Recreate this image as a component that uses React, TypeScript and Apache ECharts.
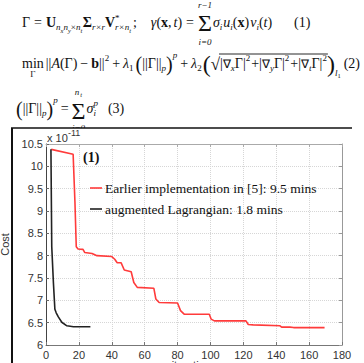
import React, { useEffect, useRef } from "react";
import * as echarts from "echarts";

// ---- data ----
const xTickMin = 0;
const xTickMax = 180;
const xTickStep = 20;
const yTickMin = 6;
const yTickMax = 10.5;
const yTickStep = 0.5;

const redIter = [3.2, 16.5, 17.6, 18.4, 19.5, 22.5, 23.6, 28, 31, 40, 41.8, 43.3, 45.7, 47.6, 51.8, 53.4, 55.5, 65.6, 66.8, 68.8, 80, 81.8, 84, 99.3, 100.4, 102.4, 120.8, 121.6, 123, 126, 142.3, 143.3, 148.3, 150.5, 169.4];
const redCost = [10.38, 10.27, 9.2, 8.2, 8.15, 8.14, 8.07, 8.05, 8.0, 7.98, 7.92, 7.84, 7.84, 7.68, 7.64, 7.4, 7.29, 7.27, 7.03, 6.95, 6.94, 6.77, 6.69, 6.69, 6.58, 6.54, 6.54, 6.54, 6.46, 6.45, 6.43, 6.4, 6.4, 6.39, 6.39];

const blackIter = [3, 3.5, 4.5, 5.4, 6.2, 7.5, 9.6, 12.7, 16.7, 27];
const blackCost = [10.38, 8.2, 7.4, 6.8, 6.72, 6.63, 6.51, 6.43, 6.41, 6.41];

const seriesNames = ["Earlier implementation in [5]: 9.5 mins", "augmented Lagrangian: 1.8 mins"];
const seriesColors = ["#ff3b3b", "#222222"];
const xName = "iterations";
const yName = "Cost";
const panelLabel = "(1)";

const SERIF = '"Liberation Serif", "Times New Roman", serif';
const SANS = '"Liberation Sans", Arial, sans-serif';

type Piece = {
  t?: string;
  s?: number;
  it?: boolean;
  b?: boolean;
  dy?: number;
  pre?: number;
  ov?: boolean;
  ctr?: boolean;
  cdx?: number;
  sq?: "start" | "end";
  sqDy?: number;
};

function fontStr(size: number, it?: boolean, b?: boolean) {
  return `${it ? "italic " : ""}${b ? "bold " : ""}${size}px ${SERIF}`;
}

let mctx: CanvasRenderingContext2D | null = null;
function measure(t: string, size: number, it?: boolean, b?: boolean) {
  if (!mctx) mctx = document.createElement("canvas").getContext("2d");
  if (!mctx) return t.length * size * 0.5;
  mctx.font = fontStr(size, it, b);
  return mctx.measureText(t).width;
}

function txt(t: string, x: number, base: number, size: number, it?: boolean, b?: boolean, align = "left") {
  return {
    type: "text",
    silent: true,
    z: -10,
    style: {
      text: t,
      x,
      y: base - 0.34 * size,
      font: fontStr(size, it, b),
      fill: "#111",
      align,
      textAlign: align,
      verticalAlign: "middle",
      textVerticalAlign: "middle",
    },
  };
}

function layoutLine(x0: number, base: number, M: number, items: Piece[]) {
  const out: any[] = [];
  let x = x0;
  let lastStart = x0;
  let mainStart = x0;
  let mainW = 0;
  let sqX = 0;
  for (const p of items) {
    if (p.sq === "start") {
      sqX = x;
      continue;
    }
    if (p.sq === "end") {
      out.push({
        type: "line",
        silent: true,
        z: -10,
        shape: { x1: sqX - 1, y1: base + (p.sqDy || -13), x2: x + 1, y2: base + (p.sqDy || -13) },
        style: { stroke: "#111", lineWidth: 0.9 },
      });
      continue;
    }
    const s = p.s || M;
    const t = p.t || "";
    const w = measure(t, s, p.it, p.b);
    const y = base + (p.dy || 0);
    if (p.ctr) {
      const cx = mainStart + mainW / 2 + (p.cdx || 0);
      out.push(txt(t, cx, y, s, p.it, p.b, "center"));
      continue;
    }
    if (p.ov) {
      out.push(txt(t, lastStart, y, s, p.it, p.b));
      x = Math.max(x, lastStart + w);
      continue;
    }
    const start = x + (p.pre || 0);
    out.push(txt(t, start, y, s, p.it, p.b));
    lastStart = start;
    mainStart = start;
    mainW = w;
    x = start + w;
  }
  return out;
}

const SUB = 9;
const SS = 6.5;

const line1: Piece[] = [
  { t: "Γ" },
  { t: "=", pre: 4 },
  { t: "U", b: true, pre: 4 },
  { t: "n", s: SUB, it: true, dy: 3.5 },
  { t: "x", s: SS, it: true, dy: 5.5 },
  { t: "n", s: SUB, it: true, dy: 3.5 },
  { t: "y", s: SS, it: true, dy: 5.5 },
  { t: "×", s: SUB, dy: 3.5 },
  { t: "n", s: SUB, it: true, dy: 3.5 },
  { t: "t", s: SS, it: true, dy: 5.5 },
  { t: "Σ", b: true, pre: 0.5 },
  { t: "r×r", s: SUB, it: true, dy: 3.5 },
  { t: "V", b: true },
  { t: "*", s: SUB, dy: -6 },
  { t: "r×n", s: SUB, it: true, dy: 3.5, ov: true },
  { t: "t", s: SS, it: true, dy: 5.5 },
  { t: ";", pre: 2 },
  { t: "γ", it: true, pre: 14 },
  { t: "(" },
  { t: "x", b: true },
  { t: "," },
  { t: "t", it: true, pre: 2 },
  { t: ")" },
  { t: "=", pre: 4 },
  { t: "Σ", s: 24, pre: 4, dy: 4 },
  { t: "r−1", s: SUB, it: true, ctr: true, dy: -19 },
  { t: "i=0", s: SUB, it: true, ctr: true, dy: 18 },
  { t: "σ", it: true, pre: 1 },
  { t: "i", s: SUB, it: true, dy: 3.5 },
  { t: "u", it: true, pre: 1 },
  { t: "i", s: SUB, it: true, dy: 3.5 },
  { t: "(" },
  { t: "x", b: true },
  { t: ")" },
  { t: "v", it: true, pre: 1 },
  { t: "i", s: SUB, it: true, dy: 3.5 },
  { t: "(" },
  { t: "t", it: true },
  { t: ")" },
  { t: "(1)", pre: 22 },
];

const grad = (v: string): Piece[] => [
  { t: "|" },
  { t: "∇", s: 12 },
  { t: v, s: SUB, it: true, dy: 3.5 },
  { t: "Γ" },
  { t: "|" },
  { t: "2", s: SUB, dy: -7 },
];

const line2: Piece[] = [
  { t: "min" },
  { t: "Γ", s: SUB, ctr: true, dy: 9 },
  { t: "||", pre: 2 },
  { t: "A", it: true },
  { t: "(" },
  { t: "Γ" },
  { t: ")" },
  { t: "−", pre: 3 },
  { t: "b", b: true, pre: 3 },
  { t: "||" },
  { t: "2", s: SUB, dy: -7 },
  { t: "+", pre: 3 },
  { t: "λ", it: true, pre: 3 },
  { t: "1", s: SUB, dy: 3.5 },
  { t: "(", s: 20, pre: 2, dy: 3 },
  { t: "||" },
  { t: "Γ" },
  { t: "||" },
  { t: "p", s: SUB, it: true, dy: 3.5 },
  { t: ")", s: 20, dy: 3 },
  { t: "p", s: SUB, it: true, dy: -10 },
  { t: "+", pre: 3 },
  { t: "λ", it: true, pre: 3 },
  { t: "2", s: SUB, dy: 3.5 },
  { t: "(", s: 24, dy: 4.5, pre: 1 },
  { t: "√", s: 17, dy: 2 },
  { sq: "start" },
  ...grad("x"),
  { t: "+", pre: 1 },
  ...grad("y"),
  { t: "+", pre: 1 },
  ...grad("t"),
  { sq: "end", sqDy: -14 },
  { t: ")", s: 24, dy: 4.5 },
  { t: "l", s: SUB, it: true, dy: 8 },
  { t: "1", s: SS, dy: 10 },
  { t: "(2)", pre: 3 },
];

const line3: Piece[] = [
  { t: "(", s: 20, dy: 3 },
  { t: "||" },
  { t: "Γ" },
  { t: "||" },
  { t: "p", s: SUB, it: true, dy: 3.5 },
  { t: ")", s: 20, dy: 3 },
  { t: "p", s: SUB, it: true, dy: -10 },
  { t: "=", pre: 3 },
  { t: "Σ", s: 24, pre: 3, dy: 6 },
  { t: "n", s: SUB, it: true, ctr: true, dy: -17.5, cdx: -1.5 },
  { t: "t", s: SS, it: true, ctr: true, dy: -16.5, cdx: 2.7 },
  { t: "i=0", s: SUB, it: true, ctr: true, dy: 18 },
  { t: "σ", it: true, pre: 1 },
  { t: "p", s: SUB, it: true, dy: -7 },
  { t: "i", s: SUB, it: true, dy: 3.5, ov: true },
  { t: "(3)", pre: 10 },
];

export default function App() {
  const ref = useRef<HTMLDivElement>(null);
  useEffect(() => {
    if (!ref.current) return;
    const chart = echarts.init(ref.current, undefined, { renderer: "svg" });

    const eqElements = [
      ...layoutLine(22, 27, 14, line1),
      ...layoutLine(22, 68, 14, line2),
      ...layoutLine(16, 113, 14, line3),
    ];

    const graphics: any[] = [
      ...eqElements,
      {
        type: "rect",
        silent: true,
        z: -5,
        shape: { x: 12, y: 128, width: 352, height: 235 },
        style: { fill: "#ffffff" },
      },
      {
        type: "line",
        silent: true,
        z: 5,
        shape: { x1: 11, y1: 128, x2: 352, y2: 128 },
        style: { stroke: "#111", lineWidth: 1.5 },
      },
      {
        type: "line",
        silent: true,
        z: 5,
        shape: { x1: 12, y1: 128, x2: 12, y2: 363 },
        style: { stroke: "#111", lineWidth: 2 },
      },
      {
        type: "text",
        silent: true,
        z: 5,
        style: { text: "x 10", x: 47, y: 138, font: `11px ${SANS}`, fill: "#333", verticalAlign: "middle", textVerticalAlign: "middle" },
      },
      {
        type: "text",
        silent: true,
        z: 6,
        style: { text: "-11", x: 68, y: 132.5, font: `9px ${SANS}`, fill: "#333", verticalAlign: "middle", textVerticalAlign: "middle" },
      },
      {
        type: "text",
        silent: true,
        z: 5,
        style: { text: panelLabel, x: 83, y: 157, font: `bold 14px ${SERIF}`, fill: "#111", verticalAlign: "middle", textVerticalAlign: "middle" },
      },
      {
        type: "line",
        silent: true,
        z: 5,
        shape: { x1: 90, y1: 188, x2: 102, y2: 188 },
        style: { stroke: seriesColors[0], lineWidth: 1.6 },
      },
      {
        type: "text",
        silent: true,
        z: 5,
        style: { text: seriesNames[0], x: 105, y: 188, font: `13.5px ${SERIF}`, fill: "#111", verticalAlign: "middle", textVerticalAlign: "middle" },
      },
      {
        type: "line",
        silent: true,
        z: 5,
        shape: { x1: 90, y1: 209, x2: 102, y2: 209 },
        style: { stroke: seriesColors[1], lineWidth: 1.6 },
      },
      {
        type: "text",
        silent: true,
        z: 5,
        style: { text: seriesNames[1], x: 105, y: 209, font: `13.5px ${SERIF}`, fill: "#111", verticalAlign: "middle", textVerticalAlign: "middle" },
      },
      {
        type: "text",
        silent: true,
        z: 5,
        style: { text: xName, x: 194, y: 359, font: `11px ${SANS}`, fill: "#333", align: "center", textAlign: "center", verticalAlign: "top", textVerticalAlign: "top" },
      },
    ];

    const axisLabelStyle = { color: "#333", fontSize: 11, fontFamily: SANS };
    const split = { show: true, lineStyle: { type: "dotted", color: "#d6d6d6", width: 1 } };

    chart.setOption({
      animation: false,
      backgroundColor: "#ffffff",
      grid: { left: 46, top: 144, width: 296, height: 201, containLabel: false, outerBoundsMode: "none" },
      xAxis: [
        {
          type: "value",
          min: xTickMin,
          max: xTickMax,
          interval: xTickStep,
          position: "bottom",
          axisLine: { show: true, onZero: false, lineStyle: { color: "#777", width: 1 } },
          axisTick: { show: true, inside: true, length: 3, lineStyle: { color: "#777" } },
          axisLabel: { ...axisLabelStyle, margin: 4 },
          splitLine: split,
        },
        {
          type: "value",
          min: xTickMin,
          max: xTickMax,
          interval: xTickStep,
          position: "top",
          axisLine: { show: true, onZero: false, lineStyle: { color: "#aaa", width: 1 } },
          axisTick: { show: true, inside: true, length: 3, lineStyle: { color: "#aaa" } },
          axisLabel: { show: false },
          splitLine: { show: false },
        },
      ],
      yAxis: [
        {
          type: "value",
          min: yTickMin,
          max: yTickMax,
          interval: yTickStep,
          position: "left",
          axisLine: { show: true, onZero: false, lineStyle: { color: "#444", width: 1 } },
          axisTick: { show: true, inside: true, length: 3, lineStyle: { color: "#666" } },
          axisLabel: { ...axisLabelStyle, margin: 3 },
          splitLine: split,
          name: yName,
          nameLocation: "middle",
          nameGap: 27,
          nameRotate: 90,
          nameTextStyle: { ...axisLabelStyle },
        },
        {
          type: "value",
          min: yTickMin,
          max: yTickMax,
          interval: yTickStep,
          position: "right",
          axisLine: { show: true, onZero: false, lineStyle: { color: "#999", width: 1 } },
          axisTick: { show: true, inside: true, length: 3, lineStyle: { color: "#999" } },
          axisLabel: { show: false },
          splitLine: { show: false },
        },
      ],
      series: [
        {
          name: seriesNames[0],
          type: "line",
          xAxisIndex: 0,
          yAxisIndex: 0,
          data: redIter.map((v, i) => [v, redCost[i]]),
          showSymbol: false,
          lineStyle: { color: seriesColors[0], width: 1.6 },
          itemStyle: { color: seriesColors[0] },
          z: 3,
        },
        {
          name: seriesNames[1],
          type: "line",
          xAxisIndex: 0,
          yAxisIndex: 0,
          data: blackIter.map((v, i) => [v, blackCost[i]]),
          showSymbol: false,
          lineStyle: { color: seriesColors[1], width: 1.6 },
          itemStyle: { color: seriesColors[1] },
          z: 4,
        },
      ],
      graphic: { elements: graphics },
    });

    return () => {
      chart.dispose();
    };
  }, []);

  return (
    <div
      ref={ref}
      style={{ position: "absolute", left: 0, top: 0, width: 364, height: 363, background: "#fff" }}
    />
  );
}
